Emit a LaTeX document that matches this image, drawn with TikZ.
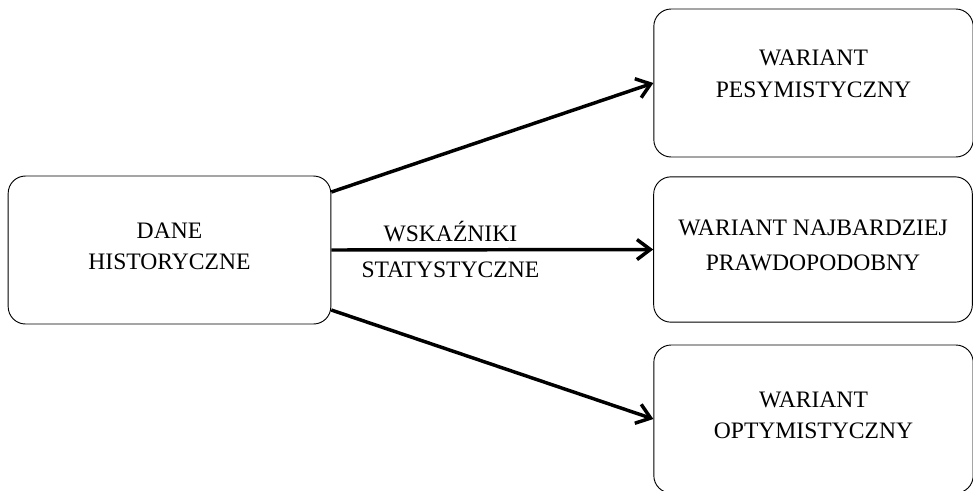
\documentclass[tikz,border=0pt]{standalone}
\usepackage{fontspec}
\setmainfont{Liberation Serif}
\usetikzlibrary{arrows.meta}

\begin{document}
\begin{tikzpicture}[x=0.75pt,y=-0.75pt,
  pole/.style={draw,line width=0.7pt,rounded corners=13pt,align=center,
    inner sep=0pt,text depth=6pt,font=\fontsize{17.7}{23.5}\selectfont},
  strzalka/.style={line width=2.6pt,-{Straight Barb[length=10pt,width=15pt]}}]

\useasboundingbox (0,0) rectangle (973,490);

% Dane wejsciowe
\node[pole,minimum width=242pt,minimum height=111pt] (dane) at (169.5,250)
{DANE\\HISTORYCZNE};

% Warianty prognozy
\node[pole,text depth=14pt,minimum width=239.5pt,minimum height=111pt] (pes) at (813.5,83)
{WARIANT\\PESYMISTYCZNY};
\node[pole,minimum width=239pt,minimum height=109pt] (naj) at (813,249.5)
{WARIANT NAJBARDZIEJ\\[2.5pt]PRAWDOPODOBNY};
\node[pole,minimum width=239.5pt,minimum height=111pt] (opt) at (813.5,419)
{WARIANT\\OPTYMISTYCZNY};

% Strzalki
\foreach \s/\t in {43.5pt/pes,-45pt/opt}
{
\draw[strzalka] ([yshift=\s]dane.east) -- (\t.west);
}

\draw[strzalka] (dane.east) -- (naj.west)
node[pos=0.37,align=center,font=\fontsize{17.7}{27}\selectfont] (wsk)
{WSKAŹNIKI\\STATYSTYCZNE};

\end{tikzpicture}
\end{document}
